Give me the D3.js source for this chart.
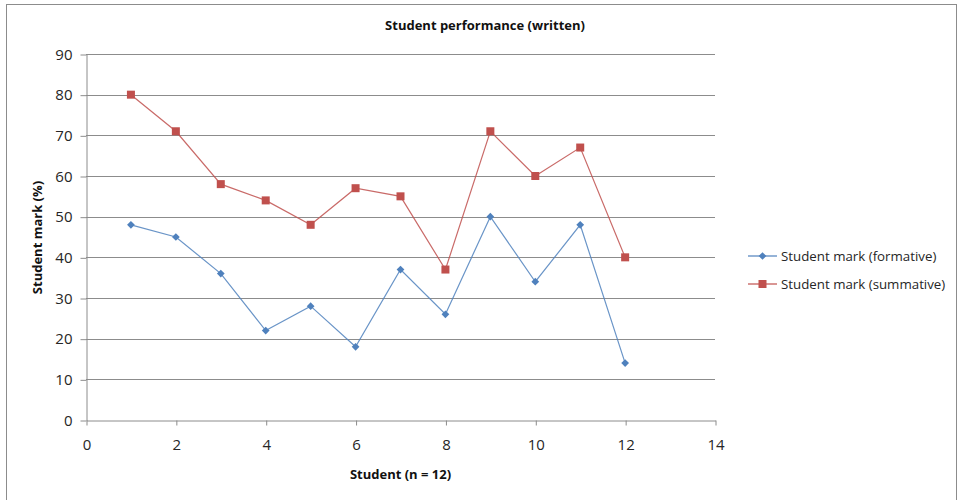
<!DOCTYPE html>
<html><head><meta charset="utf-8">
<script src="https://cdn.jsdelivr.net/npm/d3@7"></script>
<style>body{margin:0;background:#fff;} text{font-family:"Open Sans","Noto Sans",sans-serif;}</style>
</head><body>
<svg id="c" width="959" height="500"></svg>
<script>
const students = [1,2,3,4,5,6,7,8,9,10,11,12];
const formative = [48,45,36,22,28,18,37,26,50,34,48,14];
const summative = [80,71,58,54,48,57,55,37,71,60,67,40];
const xTicks = [0,2,4,6,8,10,12,14];
const yTicks = [0,10,20,30,40,50,60,70,80,90];
const seriesNames = ["Student mark (formative)","Student mark (summative)"];
const colors = ["#4F81BD","#C0504D"];

const svg = d3.select("#c");
svg.append("rect").attr("x",6.5).attr("y",4.5).attr("width",950).attr("height",510)
  .attr("fill","#fff").attr("stroke","#8c8c8c").attr("stroke-width",1);

const x = d3.scaleLinear().domain([0,14]).range([86,715]);
const y = d3.scaleLinear().domain([0,90]).range([420,54]);

// gridlines
svg.append("g").selectAll("line").data(yTicks.filter(d=>d>0)).join("line")
  .attr("x1",86).attr("x2",715).attr("y1",d=>Math.round(y(d))+0.5).attr("y2",d=>Math.round(y(d))+0.5)
  .attr("stroke","#8c8c8c").attr("stroke-width",1);

const yAxis = svg.append("g").attr("transform","translate(86.5,0.5)")
  .call(d3.axisLeft(y).tickValues(yTicks).tickSize(6).tickPadding(8).tickSizeOuter(0));
const xAxis = svg.append("g").attr("transform","translate(0.5,420.5)")
  .call(d3.axisBottom(x).tickValues(xTicks).tickSize(5).tickPadding(14).tickSizeOuter(0));
[yAxis,xAxis].forEach(a=>{
  a.select(".domain").attr("stroke","#8c8c8c");
  a.selectAll(".tick line").attr("stroke","#8c8c8c");
  a.selectAll(".tick text").attr("fill","#262626").attr("font-size","15px")
    .attr("font-family","'Open Sans',sans-serif");
});

const data = [formative, summative];
const line = d3.line().x((d,i)=>x(students[i])).y(d=>y(d));
data.forEach((vals,si)=>{
  svg.append("path").datum(vals).attr("d",line).attr("fill","none")
    .attr("stroke",colors[si]).attr("stroke-width",1.2).attr("opacity",0.85);
});
// markers
svg.append("g").selectAll("path").data(formative).join("path")
  .attr("d",d3.symbol().type(d3.symbolSquare).size(30))
  .attr("transform",(d,i)=>`translate(${x(students[i])},${y(d)}) rotate(45)`)
  .attr("fill",colors[0]);
svg.append("g").selectAll("rect").data(summative).join("rect")
  .attr("x",(d,i)=>x(students[i])-4).attr("y",d=>y(d)-4).attr("width",8).attr("height",8)
  .attr("fill",colors[1]);

// titles
svg.append("text").attr("x",485).attr("y",30).attr("text-anchor","middle")
  .attr("font-size","13px").attr("font-weight","bold").attr("fill","#111").text("Student performance (written)");
svg.append("text").attr("x",400.5).attr("y",479).attr("text-anchor","middle")
  .attr("font-size","13px").attr("font-weight","bold").attr("fill","#111").text("Student (n = 12)");
svg.append("text").attr("transform","translate(42,237.5) rotate(-90)").attr("text-anchor","middle")
  .attr("font-size","13px").attr("font-weight","bold").attr("fill","#111").text("Student mark (%)");

// legend
const leg = svg.append("g");
const ly = [256,284];
seriesNames.forEach((n,i)=>{
  leg.append("line").attr("x1",748).attr("x2",777).attr("y1",ly[i]).attr("y2",ly[i])
    .attr("stroke",colors[i]).attr("stroke-width",1.2);
  if(i===0){
    leg.append("path").attr("d",d3.symbol().type(d3.symbolSquare).size(30))
      .attr("transform",`translate(762.5,${ly[i]}) rotate(45)`).attr("fill",colors[i]);
  } else {
    leg.append("rect").attr("x",758.5).attr("y",ly[i]-4).attr("width",8).attr("height",8).attr("fill",colors[i]);
  }
  leg.append("text").attr("x",781).attr("y",ly[i]).attr("dy","0.35em")
    .attr("font-size","13.3px").attr("fill","#262626").text(n);
});
</script>
</body></html>
